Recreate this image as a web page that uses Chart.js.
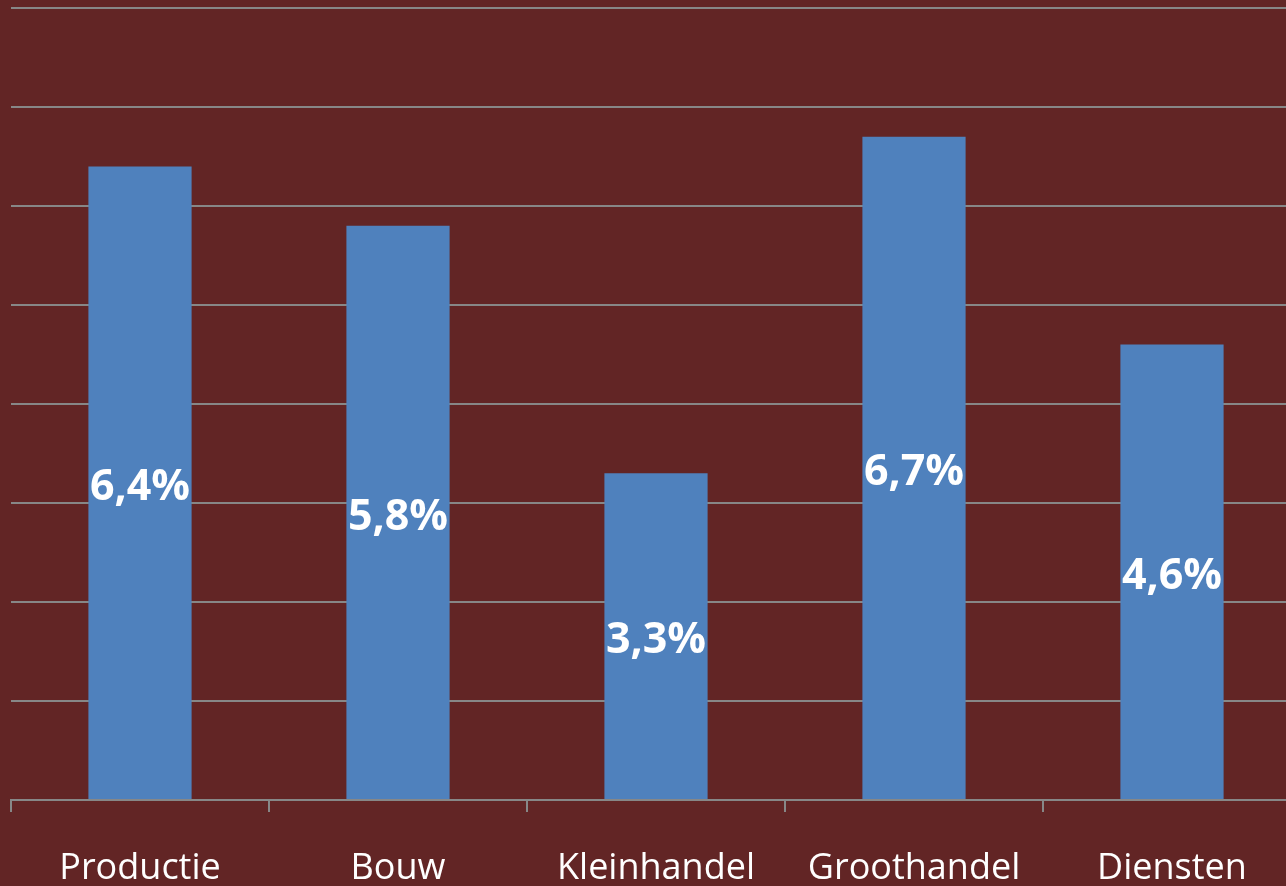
<!DOCTYPE html>
<html>
<head>
<meta charset="utf-8">
<script src="https://cdn.jsdelivr.net/npm/chart.js@4/dist/chart.umd.min.js"></script>
<style>
html,body{margin:0;padding:0;overflow:hidden;background:#622525;width:1286px;height:886px;}
#wrap{position:absolute;left:0;top:0;width:1312px;height:886px;}
</style>
</head>
<body>
<div id="wrap"><canvas id="c"></canvas></div>
<script>
const categories = ['Productie', 'Bouw', 'Kleinhandel', 'Groothandel', 'Diensten'];
const values = [6.4, 5.8, 3.3, 6.7, 4.6];
const valueLabels = ['6,4%', '5,8%', '3,3%', '6,7%', '4,6%'];

const valuePlugin = {
  id: 'valueLabels',
  afterDatasetsDraw(chart) {
    const ctx = chart.ctx;
    const meta = chart.getDatasetMeta(0);
    ctx.save();
    ctx.fillStyle = '#ffffff';
    ctx.font = 'bold 43px "Open Sans"';
    ctx.textAlign = 'center';
    ctx.textBaseline = 'middle';
    meta.data.forEach((el, i) => {
      ctx.fillText(valueLabels[i], el.x, (el.y + el.base) / 2 + 5);
    });
    ctx.restore();
  }
};

new Chart(document.getElementById('c'), {
  type: 'bar',
  data: {
    labels: categories,
    datasets: [{
      data: values,
      backgroundColor: '#4F81BD',
      borderWidth: 0,
      categoryPercentage: 1,
      barPercentage: 0.4
    }]
  },
  options: {
    responsive: true,
    maintainAspectRatio: false,
    animation: false,
    events: [],
    layout: { padding: { left: 11, right: 11, top: 8, bottom: 0 } },
    plugins: { legend: { display: false }, tooltip: { enabled: false } },
    scales: {
      x: {
        grid: { drawOnChartArea: false, drawTicks: true, tickLength: 12, color: '#878787', lineWidth: 2, offset: true },
        border: { display: true, color: '#878787', width: 2 },
        ticks: { color: '#ffffff', font: { family: 'Open Sans', size: 36 }, padding: 35, maxRotation: 0, autoSkip: false },
        afterFit(scale) { scale.height = 86; }
      },
      y: {
        min: 0, max: 8,
        ticks: { display: false, stepSize: 1 },
        grid: { color: '#878787', lineWidth: 2, drawTicks: false },
        border: { display: false },
        afterFit(scale) { scale.width = 0; }
      }
    }
  },
  plugins: [valuePlugin]
});
</script>
</body>
</html>
